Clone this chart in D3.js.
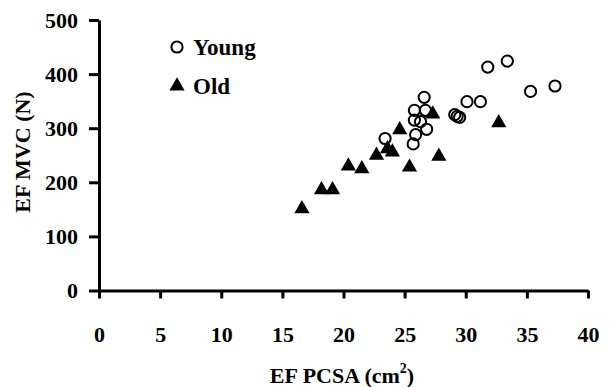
<!DOCTYPE html>
<html><head><meta charset="utf-8">
<script src="https://cdn.jsdelivr.net/npm/d3@7"></script>
<style>body{margin:0;background:#fff}</style>
</head><body><svg id="c" width="613" height="387"></svg>
<script>
const youngX = [23.4, 25.8, 26.6, 26.7, 25.8, 25.9, 25.7, 26.8, 26.3, 29.1, 29.5, 29.3, 30.1, 31.2, 31.8, 33.4, 35.3, 37.3];
const youngY = [281, 333, 357, 333, 315, 288, 271, 298, 312, 325, 320, 322, 349, 349, 413, 424, 368, 378];
const oldX = [16.6, 18.2, 19.1, 20.4, 21.5, 22.7, 23.6, 24.0, 24.6, 25.4, 27.3, 27.8, 32.7];
const oldY = [151, 186, 186, 230, 225, 250, 262, 256, 297, 228, 326, 248, 310];
const xTicks = [0, 5, 10, 15, 20, 25, 30, 35, 40];
const yTicks = [0, 100, 200, 300, 400, 500];
const seriesNames = ["Young", "Old"];

const svg = d3.select("#c");
const x = d3.scaleLinear().domain([0, 40]).range([99, 588]);
const y = d3.scaleLinear().domain([0, 500]).range([290.5, 20]);
const font = "Liberation Serif, Times New Roman, serif";

const xa = svg.append("g").attr("transform", `translate(0,${y(0)})`)
  .call(d3.axisBottom(x).tickValues(xTicks).tickSize(8).tickSizeOuter(0).tickPadding(28));
const ya = svg.append("g").attr("transform", `translate(${x(0)},0)`)
  .call(d3.axisLeft(y).tickValues(yTicks).tickSize(10).tickSizeOuter(0).tickPadding(11));
[xa, ya].forEach(a => {
  a.select(".domain").attr("stroke", "#000").attr("stroke-width", 3);
  a.selectAll(".tick line").attr("stroke", "#000").attr("stroke-width", 3);
  a.selectAll(".tick text").attr("font-family", font).attr("font-weight", "bold")
    .attr("font-size", 22).attr("fill", "#000");
});

const tri = d3.symbol().type(d3.symbolTriangle).size(100);
svg.append("g").selectAll("path").data(oldX.map((v, i) => [v, oldY[i]])).join("path")
  .attr("d", tri).attr("transform", d => `translate(${x(d[0])},${y(d[1])})`).attr("fill", "#000");
svg.append("g").selectAll("circle").data(youngX.map((v, i) => [v, youngY[i]])).join("circle")
  .attr("cx", d => x(d[0])).attr("cy", d => y(d[1])).attr("r", 5.6)
  .attr("fill", "none").attr("stroke", "#000").attr("stroke-width", 2);

// legend
svg.append("circle").attr("cx", 177).attr("cy", 47).attr("r", 5.6).attr("fill", "none").attr("stroke", "#000").attr("stroke-width", 2);
svg.append("path").attr("d", tri).attr("transform", "translate(177,86)").attr("fill", "#000");
svg.append("text").attr("x", 193).attr("y", 55).text(seriesNames[0])
  .attr("font-family", font).attr("font-weight", "bold").attr("font-size", 23);
svg.append("text").attr("x", 193).attr("y", 94).text(seriesNames[1])
  .attr("font-family", font).attr("font-weight", "bold").attr("font-size", 23);

// axis titles
const xt = svg.append("text").attr("x", 342).attr("y", 383).attr("text-anchor", "middle")
  .attr("font-family", font).attr("font-weight", "bold").attr("font-size", 22);
xt.append("tspan").text("EF PCSA (cm");
xt.append("tspan").text("2").attr("font-size", 14).attr("dy", -10);
xt.append("tspan").text(")").attr("dy", 10);
svg.append("text").attr("transform", "translate(30,152) rotate(-90)").attr("text-anchor", "middle")
  .attr("font-family", font).attr("font-weight", "bold").attr("font-size", 22).text("EF MVC (N)");
</script></body></html>
